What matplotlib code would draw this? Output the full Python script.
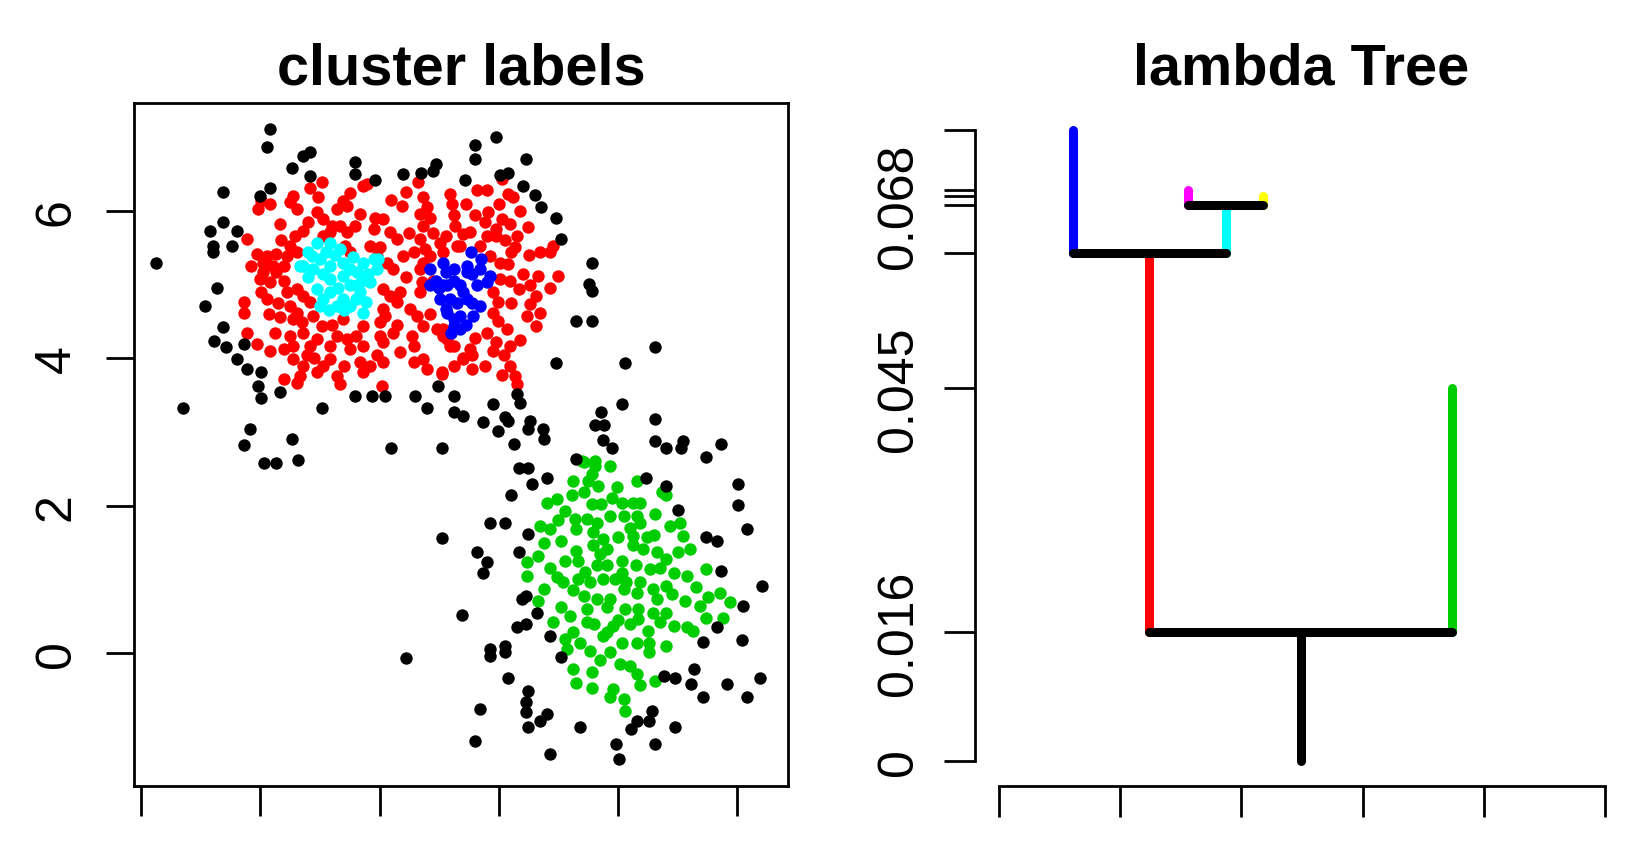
import matplotlib
matplotlib.use("Agg")
import matplotlib.pyplot as plt

plt.rcParams['font.family'] = ['Liberation Sans', 'DejaVu Sans']

# ---- left panel: points by cluster label (x, y) ----
noise_pts = [
    (0.17, 7.12), (0.12, 6.87), (0.72, 6.75), (0.83, 6.80), (0.53, 6.58), (1.59, 6.67), (1.59, 6.50),
    (0.83, 6.47), (1.93, 6.42), (2.39, 6.50), (2.69, 6.52), (2.90, 6.55), (2.95, 6.64), (3.43, 6.42),
    (-0.63, 6.26), (0.00, 6.21), (0.17, 6.31), (-0.63, 5.85), (-0.84, 5.73), (-0.39, 5.73), (-0.79, 5.53),
    (-0.79, 5.44), (-0.48, 5.53), (-1.74, 5.29), (-0.73, 4.95), (-0.93, 4.71), (-0.63, 4.43), (-0.78, 4.23),
    (-0.58, 4.15), (-0.27, 4.19), (-0.39, 3.99), (-0.23, 3.86), (0.02, 3.82), (-0.03, 3.63), (0.02, 3.46),
    (0.33, 3.55), (-1.29, 3.33), (1.03, 3.33), (1.59, 3.49), (1.88, 3.49), (2.09, 3.49), (2.59, 3.49),
    (2.98, 3.63), (3.24, 3.49), (2.79, 3.33), (3.24, 3.27), (3.40, 3.22), (-0.17, 3.04), (0.53, 2.91),
    (-0.28, 2.83), (0.07, 2.58), (0.27, 2.58), (0.63, 2.62), (2.19, 2.78), (3.04, 2.78), (3.04, 1.56),
    (3.39, 0.51), (2.44, -0.07),
    (3.95, 7.00), (3.60, 6.89), (3.60, 6.71), (4.45, 6.71), (4.02, 6.49), (4.16, 6.52), (4.40, 6.34),
    (4.61, 6.22), (4.70, 6.06), (4.95, 5.90), (5.05, 5.62), (5.56, 5.30), (5.51, 5.01), (5.56, 4.92),
    (5.30, 4.51), (5.56, 4.51), (6.62, 4.15), (4.96, 3.94), (6.11, 3.94), (4.30, 3.52), (4.35, 3.40),
    (3.90, 3.38), (3.74, 3.13), (4.10, 3.20), (4.16, 3.15), (3.99, 3.02), (4.52, 3.15), (4.49, 3.04),
    (4.74, 3.04), (5.71, 3.27), (6.06, 3.38), (5.61, 3.09), (5.76, 3.09), (6.62, 3.18),
    (4.76, 2.90), (4.25, 2.84), (5.75, 2.89), (5.90, 2.79), (6.62, 2.88), (6.81, 2.79), (7.09, 2.88),
    (7.06, 2.79), (7.72, 2.84), (7.47, 2.66), (5.29, 2.63), (4.34, 2.51), (4.49, 2.51), (4.80, 2.38),
    (4.55, 2.30), (6.46, 2.38), (6.81, 2.27), (4.20, 2.14), (8.01, 2.30), (8.01, 2.01), (7.01, 1.94),
    (8.16, 1.68), (3.85, 1.77), (4.10, 1.77), (4.49, 1.62), (7.47, 1.57), (7.66, 1.52), (3.64, 1.37),
    (4.34, 1.37), (3.80, 1.24), (3.74, 1.08), (7.72, 1.12), (8.42, 0.91), (4.45, 0.78), (4.38, 0.74),
    (4.64, 0.55), (8.10, 0.64), (4.31, 0.35), (4.45, 0.39), (4.86, 0.23), (7.66, 0.35), (3.85, 0.05),
    (3.85, -0.04), (4.10, 0.10), (4.10, 0.01), (5.05, -0.06), (7.42, 0.15), (8.07, 0.18), (7.27, -0.22),
    (6.77, -0.31), (6.95, -0.34), (7.22, -0.42), (7.82, -0.42), (8.37, -0.34), (4.16, -0.34), (4.49, -0.51),
    (7.42, -0.59), (8.16, -0.59), (4.45, -0.67), (4.45, -0.80), (3.69, -0.76), (4.80, -0.83), (4.69, -0.92),
    (4.49, -1.00), (5.36, -1.00), (6.56, -0.78), (6.31, -0.92), (6.52, -0.92), (6.21, -1.03), (6.96, -1.00),
    (3.60, -1.20), (5.96, -1.24), (6.62, -1.24), (4.86, -1.37), (6.01, -1.44),
]

red_pts = [
    (1.03, 6.39), (0.83, 6.31), (1.73, 6.34), (1.79, 6.37), (2.45, 6.26), (2.65, 6.39), (3.18, 6.23),
    (0.97, 6.19), (0.02, 6.14), (0.16, 6.09), (-0.03, 6.03), (0.55, 6.21), (0.50, 6.12), (0.61, 6.03),
    (1.39, 6.14), (1.45, 6.07), (1.28, 6.03), (2.37, 6.07), (2.73, 6.19), (2.79, 6.05), (3.21, 6.09),
    (0.95, 5.98), (1.06, 5.89), (1.20, 5.80), (1.34, 5.80), (1.59, 5.80), (1.67, 5.96), (1.92, 5.91),
    (2.06, 5.89), (2.68, 5.96), (2.85, 5.91), (2.73, 5.80), (3.24, 5.94), (3.26, 5.80), (0.33, 5.82),
    (0.72, 5.73), (0.58, 5.66), (1.17, 5.71), (1.45, 5.71), (1.90, 5.76), (2.17, 5.71), (2.29, 5.62),
    (3.12, 5.66), (3.40, 5.69), (-0.23, 5.62), (1.06, 5.66),
    (0.50, 5.53), (0.61, 5.44), (1.42, 5.53), (1.50, 5.44), (1.84, 5.53), (2.01, 5.51), (1.95, 5.39),
    (2.68, 5.62), (2.76, 5.48), (2.85, 5.39), (3.01, 5.57), (3.29, 5.53), (-0.06, 5.42), (0.11, 5.39),
    (0.27, 5.42), (0.44, 5.39), (0.05, 5.30), (0.22, 5.26), (0.39, 5.26), (2.40, 5.39), (2.57, 5.44),
    (2.12, 5.30), (2.23, 5.21), (2.73, 5.30), (2.68, 5.21), (0.05, 5.17), (0.27, 5.17), (3.07, 5.44),
    (-0.01, 5.08), (0.16, 5.03), (0.39, 5.05), (0.44, 4.90), (0.61, 4.94), (0.72, 4.85), (0.02, 4.90),
    (0.11, 4.81), (0.50, 4.71), (0.83, 4.76), (2.06, 4.94), (2.17, 4.85), (2.29, 4.76), (2.71, 5.03),
    (2.68, 4.90), (-0.28, 4.76), (-0.28, 4.62), (0.61, 4.62),
    (0.33, 4.56), (0.55, 4.53), (0.89, 4.58), (1.03, 4.44), (1.39, 4.53), (1.73, 4.44), (2.06, 4.67),
    (2.09, 4.58), (2.51, 4.67), (2.62, 4.58), (2.73, 4.44), (-0.23, 4.35), (2.96, 4.40),
    (0.50, 4.31), (0.72, 4.35), (0.95, 4.26), (1.28, 4.31), (1.45, 4.26), (0.55, 4.17), (0.83, 4.17),
    (1.17, 4.17), (1.50, 4.13), (1.73, 4.17), (2.01, 4.31), (2.23, 4.35), (2.06, 4.22), (2.34, 4.08),
    (2.57, 4.17), (3.07, 4.31), (3.18, 4.17), (-0.06, 4.19), (0.16, 4.10), (0.39, 4.13), (0.55, 3.99),
    (0.78, 4.04), (2.73, 3.99), (3.40, 4.01),
    (0.72, 3.90), (1.06, 3.90), (1.17, 3.99), (1.67, 3.95), (1.84, 3.90), (2.06, 3.95), (2.57, 3.95),
    (2.79, 3.86), (3.24, 3.90), (0.67, 3.76), (0.95, 3.81), (1.28, 3.76), (1.73, 3.81), (0.39, 3.72),
    (0.61, 3.67), (1.34, 3.65), (2.04, 3.63), (3.04, 3.79),
    (4.05, 6.43), (3.63, 6.28), (3.80, 6.28), (4.16, 6.23), (4.24, 6.19), (3.82, 5.98), (3.77, 5.85),
    (4.05, 5.89), (3.96, 5.76), (4.19, 5.82), (3.80, 5.66), (3.96, 5.66), (4.49, 5.78), (4.30, 5.66),
    (3.52, 5.71), (3.35, 5.53), (3.68, 5.53), (4.27, 5.51), (4.21, 5.44), (4.69, 5.44), (4.91, 5.53),
    (4.86, 5.44), (3.85, 5.39), (4.02, 5.30), (4.16, 5.28), (5.00, 5.12), (4.02, 5.08), (4.19, 5.05),
    (4.33, 4.94), (4.52, 4.99), (4.66, 5.12), (4.63, 4.85), (4.86, 4.96), (4.52, 4.74), (4.47, 4.58),
    (4.69, 4.62), (4.63, 4.44), (3.99, 4.76), (3.91, 4.62), (3.99, 4.51), (4.13, 4.40), (3.80, 4.35),
    (3.60, 4.28), (3.07, 4.40), (3.13, 4.26), (3.24, 4.17), (3.96, 4.22), (4.19, 4.17), (3.52, 4.13),
    (3.40, 3.99), (3.77, 3.90), (4.08, 4.04), (4.19, 3.90), (4.27, 3.76), (4.30, 3.65), (3.04, 3.81),
    (-0.15, 5.25), (0.35, 5.60), (0.80, 5.85), (1.50, 6.25), (2.20, 6.15), (2.50, 5.70), (2.90, 5.70),
    (2.45, 5.10), (2.90, 5.05), (2.35, 4.90), (2.85, 4.60), (2.30, 4.45), (2.55, 4.30), (1.95, 4.05),
    (1.40, 3.90), (0.90, 4.00), (0.25, 4.35), (0.30, 4.75), (0.15, 4.60), (0.70, 4.50), (1.20, 4.45),
    (1.60, 4.30), (2.00, 4.50), (3.55, 4.05), (3.90, 4.10), (4.35, 4.25), (4.40, 5.15), (4.50, 5.40),
    (4.10, 5.60), (3.60, 5.95), (3.45, 6.10), (4.00, 6.10), (4.35, 6.00), (3.90, 4.90), (4.20, 4.75),
    (4.05, 3.78), (3.55, 3.85),
]

green_pts = [
    (5.42, 2.59), (5.61, 2.54), (5.86, 2.54), (5.56, 2.43), (5.25, 2.34), (5.50, 2.34), (5.67, 2.27),
    (6.31, 2.34), (5.98, 2.25), (5.42, 2.18), (5.22, 2.14), (4.80, 2.04), (4.97, 2.09), (5.56, 2.02),
    (5.72, 2.02), (6.06, 2.04), (6.25, 2.04), (6.37, 2.04), (6.73, 2.18), (6.81, 2.14), (5.11, 1.93),
    (5.28, 1.82), (5.47, 1.82), (5.64, 1.77), (5.86, 1.86), (6.09, 1.86), (6.31, 1.86), (6.62, 1.89),
    (6.37, 1.77), (6.87, 1.73), (7.04, 1.77), (4.69, 1.73), (4.86, 1.68), (5.05, 1.52), (5.30, 1.68),
    (5.58, 1.64), (5.75, 1.55), (6.00, 1.57), (6.25, 1.59), (6.48, 1.57), (7.09, 1.59), (4.75, 1.50),
    (5.30, 1.39), (5.58, 1.46), (5.81, 1.41), (6.25, 1.46), (6.42, 1.41), (6.65, 1.37), (6.81, 1.28),
    (7.01, 1.37), (7.20, 1.41), (4.66, 1.32), (4.47, 1.23), (5.11, 1.25), (5.33, 1.25), (5.64, 1.19),
    (5.81, 1.19), (6.06, 1.25), (6.06, 1.09), (6.53, 1.14), (6.70, 1.16), (6.93, 1.09), (7.15, 1.05),
    (7.48, 1.14), (4.47, 1.05), (4.97, 1.03), (5.08, 0.96), (5.33, 1.00), (5.53, 0.96), (5.75, 1.00),
    (5.95, 1.00), (6.14, 0.96), (6.37, 0.96), (6.59, 0.87), (6.81, 0.91), (4.75, 0.87), (5.25, 0.85),
    (5.42, 0.78), (5.64, 0.73), (5.86, 0.73), (6.09, 0.87), (6.31, 0.82), (6.65, 0.73), (7.12, 0.71),
    (7.37, 0.64), (7.51, 0.76), (7.71, 0.82), (7.87, 0.69), (4.66, 0.71), (5.05, 0.62), (5.47, 0.60),
    (5.81, 0.62), (6.11, 0.60), (6.34, 0.60), (6.59, 0.55), (6.81, 0.55), (7.48, 0.48), (7.76, 0.48),
    (4.91, 0.42), (5.47, 0.42), (5.81, 0.28), (5.92, 0.37), (6.20, 0.39), (6.34, 0.46), (6.70, 0.42),
    (6.93, 0.37), (7.15, 0.35), (7.26, 0.30), (5.11, 0.19), (5.25, 0.28), (5.36, 0.14), (5.75, 0.23),
    (6.06, 0.14), (6.31, 0.14), (6.51, 0.14), (6.81, 0.10), (5.14, 0.05), (5.53, 0.03), (5.86, 0.01),
    (6.51, 0.01), (5.70, -0.10), (6.03, -0.15), (6.20, -0.17), (5.25, -0.22), (5.56, -0.26), (6.31, -0.29),
    (6.62, -0.38), (5.30, -0.40), (5.56, -0.47), (5.92, -0.49), (6.37, -0.44), (5.86, -0.60), (6.09, -0.63),
    (6.11, -0.78), (5.39, 2.61), (5.61, 2.61),
    (5.00, 1.80), (5.90, 2.10), (6.60, 1.60), (5.45, 1.10), (6.30, 1.20), (6.90, 0.80), (5.20, 0.50),
    (6.00, 0.45), (6.50, 0.30), (5.60, 0.40), (7.30, 0.90), (4.85, 1.15), (6.20, 1.70), (5.70, 1.35),
]

cyan_pts = [
    (0.95, 5.57), (1.17, 5.57), (0.86, 5.39), (1.11, 5.44), (1.34, 5.48), (0.67, 5.26), (0.89, 5.21),
    (1.17, 5.26), (1.39, 5.30), (1.50, 5.21), (1.73, 5.30), (1.90, 5.35), (1.95, 5.21), (1.84, 5.03),
    (1.62, 4.99), (1.39, 5.12), (1.17, 5.08), (0.95, 4.94), (1.17, 4.90), (1.39, 4.81), (1.67, 4.90),
    (1.78, 4.76), (1.73, 4.62), (1.50, 4.71), (1.28, 4.71), (1.00, 4.71), (1.06, 4.81), (0.72, 5.26),
    (1.62, 5.17), (1.98, 5.35),
    (0.80, 5.45), (1.00, 5.35), (1.25, 5.40), (1.55, 5.38), (1.80, 5.15), (1.50, 5.00), (1.30, 4.95),
    (1.05, 5.15), (0.80, 5.10), (1.60, 4.80), (1.15, 4.65), (1.40, 4.65), (1.70, 5.05),
]

blue_pts = [
    (2.85, 5.21), (2.85, 4.99), (3.07, 5.30), (3.12, 5.17), (3.01, 4.81), (3.12, 4.67), (3.24, 4.53),
    (3.35, 4.40), (3.40, 4.90), (3.46, 5.17), (3.07, 4.99), (3.24, 5.21), (3.46, 5.26), (3.68, 5.21),
    (3.85, 5.12), (3.54, 5.44), (3.13, 4.99), (3.35, 4.99), (3.63, 4.99), (3.80, 5.03), (3.18, 4.81),
    (3.46, 4.81), (3.68, 4.71), (3.13, 4.62), (3.35, 4.58), (3.57, 4.58), (3.24, 4.44),
    (2.95, 5.05), (3.25, 5.05), (3.55, 5.15), (3.30, 4.75), (3.55, 4.75), (3.20, 4.35), (3.45, 4.45),
    (3.70, 5.35), (3.00, 4.95),
]

x_ticks_left = [-2, 0, 2, 4, 6, 8]
y_ticks_left = [0, 2, 4, 6]

# ---- right panel: lambda tree ----
tree_nodes = ["root", "red", "green", "blue", "cyan", "magenta", "yellow"]
tree_parent = [None, "root", "root", "red", "red", "cyan", "cyan"]
tree_colors = ["black", "#FF0000", "#00CD00", "#0000FF", "#00FFFF", "#FF00FF", "#FFFF00"]
tree_birth = [0.0, 0.01573, 0.01573, 0.06195, 0.06195, 0.0678, 0.0678]
tree_death = [0.01573, 0.06195, 0.04549, 0.0770, 0.0678, 0.0696, 0.0689]
leaf_pos = {"blue": 0.61, "magenta": 1.56, "yellow": 2.18, "green": 3.74}

lambda_ticks = [0.0, 0.01573, 0.04549, 0.06195, 0.0678, 0.0689, 0.0696, 0.0770]
lambda_labels = ["0", "0.016", "0.045", "", "0.068", "", "", ""]
x_ticks_right = [0, 1, 2, 3, 4, 5]


fig = plt.figure(figsize=(16.26, 8.45), dpi=100)
ax1 = fig.add_axes([0.0827, 0.0686, 0.4019, 0.8083])
ax2 = fig.add_axes([0.5999, 0.0686, 0.4001, 0.8083])

dot = 80
for pts, col in [(red_pts, "#FF0000"), (green_pts, "#00CD00"), (noise_pts, "black"),
                 (cyan_pts, "#00FFFF"), (blue_pts, "#0000FF")]:
    ax1.scatter([p[0] for p in pts], [p[1] for p in pts], s=dot, c=col, linewidths=0)

ax1.set_xlim(-2.109, 8.847)
ax1.set_ylim(-1.805, 7.466)
ax1.set_xticks(x_ticks_left)
ax1.set_xticklabels([""] * len(x_ticks_left))
ax1.set_yticks(y_ticks_left)
ax1.set_yticklabels([str(v) for v in y_ticks_left], rotation=90, va="center")
ax1.tick_params(axis="x", length=21.5, width=2, direction="out")
ax1.tick_params(axis="y", length=20, width=2, direction="out", labelsize=36, pad=19.5)
for s in ax1.spines.values():
    s.set_linewidth(2)
ax1.set_title("cluster labels", fontsize=41.5, fontweight="bold", pad=13.7)

# tree layout: leaves fixed, parents centred over children
children = {n: [] for n in tree_nodes}
for n, p in zip(tree_nodes, tree_parent):
    if p is not None:
        children[p].append(n)


def node_x(n):
    if n in leaf_pos:
        return leaf_pos[n]
    xs = [node_x(c) for c in children[n]]
    return sum(xs) / len(xs)


lw = 6.5
for n, col, b, d in zip(tree_nodes, tree_colors, tree_birth, tree_death):
    x = node_x(n)
    ax2.plot([x, x], [b, d], color=col, lw=lw, solid_capstyle="round", zorder=2)
for n, d in zip(tree_nodes, tree_death):
    if children[n]:
        xs = [node_x(c) for c in children[n]]
        ax2.plot([min(xs), max(xs)], [d, d], color="black", lw=lw, solid_capstyle="round", zorder=3)

ax2.set_xlim(-0.194, 5.173)
ax2.set_ylim(-0.00305, 0.08024)
ax2.spines["top"].set_visible(False)
ax2.spines["right"].set_visible(False)
ax2.spines["left"].set_bounds(lambda_ticks[0], lambda_ticks[-1])
ax2.spines["bottom"].set_bounds(x_ticks_right[0], x_ticks_right[-1])
for s in ax2.spines.values():
    s.set_linewidth(2)
ax2.set_xticks(x_ticks_right)
ax2.set_xticklabels([""] * len(x_ticks_right))
ax2.set_yticks(lambda_ticks)
ax2.set_yticklabels(lambda_labels, rotation=90, va="center")
ax2.tick_params(axis="x", length=22, width=2, direction="out")
ax2.tick_params(axis="y", length=22.3, width=2, direction="out", labelsize=36, pad=16.5)
ax2.set_title("lambda Tree", fontsize=41.5, fontweight="bold", pad=13.7)

fig.savefig("out.png", dpi=100)
